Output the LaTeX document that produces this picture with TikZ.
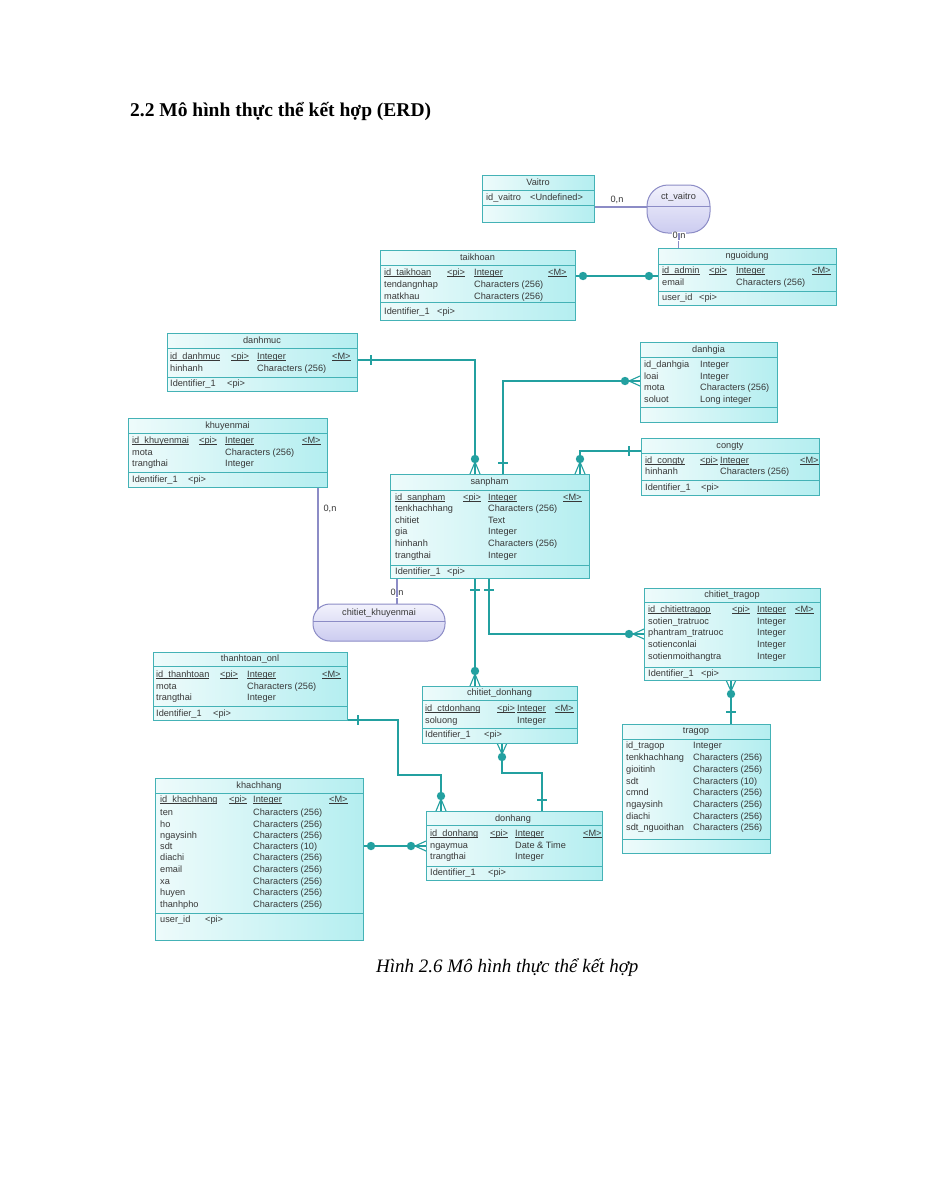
\documentclass[tikz,border=0pt]{standalone}
\usepackage{fontspec}
\setmainfont{Liberation Serif}
\newfontfamily\erfont{Liberation Sans}
\usetikzlibrary{calc}
\pgfdeclarelayer{bg}
\pgfsetlayers{bg,main}
\definecolor{ebord}{HTML}{44B2B6}
\definecolor{efill}{HTML}{B4EEF0}
\definecolor{efillb}{HTML}{EEFBFB}
\definecolor{rbord}{HTML}{8C8CC6}
\definecolor{rfill}{HTML}{CCCCF0}
\definecolor{rfillb}{HTML}{F2F2FC}
\definecolor{conncol}{HTML}{23A0A0}
\definecolor{etext}{HTML}{383838}
\newcommand\uln[1]{\setbox0\hbox{#1}\rlap{\rule[-1.4pt]{\wd0}{0.5pt}}\box0}
\newcommand\etx[3]{\node[etxt] at (#1,#2) {#3};}
\newcommand\crowN[2]{\draw[conn] (#1-5,#2) -- (#1,#2-12) -- (#1+5,#2); \fill[conncol] (#1,#2-15) circle (4.2pt);}
\newcommand\crowS[2]{\draw[conn] (#1-5,#2) -- (#1,#2+11) -- (#1+5,#2); \fill[conncol] (#1,#2+14) circle (4.2pt);}
\newcommand\crowE[2]{\draw[conn] (#1,#2-5) -- (#1-11,#2) -- (#1,#2+5); \fill[conncol] (#1-15,#2) circle (4.2pt);}
\newcommand\tickV[2]{\draw[conn] (#1,#2-5) -- (#1,#2+5);}
\newcommand\tickH[2]{\draw[conn] (#1-5,#2) -- (#1+5,#2);}
\newcommand\dotc[2]{\fill[conncol] (#1,#2) circle (4.2pt);}
\tikzset{
  entity/.style={draw=ebord, line width=1pt, left color=efillb, right color=efill, anchor=north west, inner sep=0pt, outer sep=0pt},
  relbox/.style={draw=rbord, line width=1pt, top color=rfillb, bottom color=rfill, anchor=north west, rounded corners=17pt, inner sep=0pt, outer sep=0pt},
  ediv/.style={draw=ebord, line width=0.8pt},
  rdiv/.style={draw=rbord, line width=0.8pt},
  conn/.style={draw=conncol, line width=1.1pt},
  etxt/.style={font=\erfont\fontsize{9.2}{10}\selectfont, text=etext, inner sep=0pt, anchor=west, text height=6.5pt, text depth=1.5pt},
  etitle/.style={etxt, anchor=center},
  card/.style={etxt, anchor=center}
}
\begin{document}
\begin{tikzpicture}[x=1pt,y=-1pt]
\begin{pgfonlayer}{bg}
\fill[white] (0,0) rectangle (927,1200);
\end{pgfonlayer}
\useasboundingbox (0,0) rectangle (927,1200);

% headings
\node[anchor=base west, font=\bfseries\fontsize{19.5}{22}\selectfont, inner sep=0pt] (title) at (130,116) {2.2 Mô hình thực thể kết hợp (ERD)};
\node[anchor=base west, font=\itshape\fontsize{19}{22}\selectfont, inner sep=0pt] (caption) at (376,972) {Hình 2.6 Mô hình thực thể kết hợp};

% ---------- Vaitro
\node[entity, minimum width=112pt, minimum height=47pt] (vaitro) at (482,175) {};
\draw[ediv] (482,190) -- (594,190) (482,205) -- (594,205);
\node[etitle] at (538,182.5) {Vaitro};
\etx{486}{198}{id\_vaitro}\etx{530}{198}{<Undefined>}

% ---------- ct_vaitro
\node[relbox, rounded corners=21pt, minimum width=63pt, minimum height=48pt] (ctvaitro) at (647,185) {};
\draw[rdiv] (647,206) -- (710,206);
\node[etitle] at (678.5,197) {ct\_vaitro};

% ---------- nguoidung
\node[entity, minimum width=178pt, minimum height=57pt] (nguoidung) at (658,248) {};
\draw[ediv] (658,264) -- (836,264) (658,291) -- (836,291);
\node[etitle] at (747,256) {nguoidung};
\etx{662}{271}{\uln{id\_admin}}\etx{709}{271}{\uln{<pi>}}\etx{736}{271}{\uln{Integer}}\etx{812}{271}{\uln{<M>}}
\etx{662}{283}{email}\etx{736}{283}{Characters (256)}
\etx{662}{298}{user\_id}\etx{699}{298}{<pi>}

% ---------- taikhoan
\node[entity, minimum width=195pt, minimum height=70pt] (taikhoan) at (380,250) {};
\draw[ediv] (380,265) -- (575,265) (380,302) -- (575,302);
\node[etitle] at (477.5,258) {taikhoan};
\etx{384}{273}{\uln{id\_taikhoan}}\etx{447}{273}{\uln{<pi>}}\etx{474}{273}{\uln{Integer}}\etx{548}{273}{\uln{<M>}}
\etx{384}{285}{tendangnhap}\etx{474}{285}{Characters (256)}
\etx{384}{297}{matkhau}\etx{474}{297}{Characters (256)}
\etx{384}{312}{Identifier\_1}\etx{437}{312}{<pi>}

% ---------- danhmuc
\node[entity, minimum width=190pt, minimum height=58pt] (danhmuc) at (167,333) {};
\draw[ediv] (167,348) -- (357,348) (167,377) -- (357,377);
\node[etitle] at (262,341) {danhmuc};
\etx{170}{357}{\uln{id\_danhmuc}}\etx{231}{357}{\uln{<pi>}}\etx{257}{357}{\uln{Integer}}\etx{332}{357}{\uln{<M>}}
\etx{170}{369}{hinhanh}\etx{257}{369}{Characters (256)}
\etx{170}{384}{Identifier\_1}\etx{227}{384}{<pi>}

% ---------- khuyenmai
\node[entity, minimum width=199pt, minimum height=69pt] (khuyenmai) at (128,418) {};
\draw[ediv] (128,433) -- (327,433) (128,472) -- (327,472);
\node[etitle] at (227.5,426) {khuyenmai};
\etx{132}{441}{\uln{id\_khuyenmai}}\etx{199}{441}{\uln{<pi>}}\etx{225}{441}{\uln{Integer}}\etx{302}{441}{\uln{<M>}}
\etx{132}{453}{mota}\etx{225}{453}{Characters (256)}
\etx{132}{464}{trangthai}\etx{225}{464}{Integer}
\etx{132}{480}{Identifier\_1}\etx{188}{480}{<pi>}

% ---------- danhgia
\node[entity, minimum width=137pt, minimum height=80pt] (danhgia) at (640,342) {};
\draw[ediv] (640,357) -- (777,357) (640,407) -- (777,407);
\node[etitle] at (708.5,350) {danhgia};
\etx{644}{365}{id\_danhgia}\etx{700}{365}{Integer}
\etx{644}{377}{loai}\etx{700}{377}{Integer}
\etx{644}{388}{mota}\etx{700}{388}{Characters (256)}
\etx{644}{400}{soluot}\etx{700}{400}{Long integer}

% ---------- congty
\node[entity, minimum width=178pt, minimum height=57pt] (congty) at (641,438) {};
\draw[ediv] (641,453) -- (819,453) (641,480) -- (819,480);
\node[etitle] at (730,446) {congty};
\etx{645}{461}{\uln{id\_congty}}\etx{700}{461}{\uln{<pi>}}\etx{720}{461}{\uln{Integer}}\etx{800}{461}{\uln{<M>}}
\etx{645}{472}{hinhanh}\etx{720}{472}{Characters (256)}
\etx{645}{488}{Identifier\_1}\etx{701}{488}{<pi>}

% ---------- sanpham
\node[entity, minimum width=199pt, minimum height=104pt] (sanpham) at (390,474) {};
\draw[ediv] (390,490) -- (589,490) (390,565) -- (589,565);
\node[etitle] at (489.5,482) {sanpham};
\etx{395}{498}{\uln{id\_sanpham}}\etx{463}{498}{\uln{<pi>}}\etx{488}{498}{\uln{Integer}}\etx{563}{498}{\uln{<M>}}
\etx{395}{509}{tenkhachhang}\etx{488}{509}{Characters (256)}
\etx{395}{521}{chitiet}\etx{488}{521}{Text}
\etx{395}{532}{gia}\etx{488}{532}{Integer}
\etx{395}{544}{hinhanh}\etx{488}{544}{Characters (256)}
\etx{395}{556}{trangthai}\etx{488}{556}{Integer}
\etx{395}{572}{Identifier\_1}\etx{447}{572}{<pi>}

% ---------- chitiet_khuyenmai
\node[relbox, minimum width=132pt, minimum height=37pt] (ctkm) at (313,604) {};
\draw[rdiv] (313,621) -- (445,621);
\node[etitle] at (379,612.5) {chitiet\_khuyenmai};

% ---------- chitiet_tragop
\node[entity, minimum width=176pt, minimum height=92pt] (cttg) at (644,588) {};
\draw[ediv] (644,602) -- (820,602) (644,667) -- (820,667);
\node[etitle] at (732,595) {chitiet\_tragop};
\etx{648}{610}{\uln{id\_chitiettragop}}\etx{732}{610}{\uln{<pi>}}\etx{757}{610}{\uln{Integer}}\etx{795}{610}{\uln{<M>}}
\etx{648}{622}{sotien\_tratruoc}\etx{757}{622}{Integer}
\etx{648}{633}{phantram\_tratruoc}\etx{757}{633}{Integer}
\etx{648}{645}{sotienconlai}\etx{757}{645}{Integer}
\etx{648}{657}{sotienmoithangtra}\etx{757}{657}{Integer}
\etx{648}{674}{Identifier\_1}\etx{701}{674}{<pi>}

% ---------- tragop
\node[entity, minimum width=148pt, minimum height=129pt] (tragop) at (622,724) {};
\draw[ediv] (622,739) -- (770,739) (622,839) -- (770,839);
\node[etitle] at (696,731) {tragop};
\etx{626}{746}{id\_tragop}\etx{693}{746}{Integer}
\etx{626}{758}{tenkhachhang}\etx{693}{758}{Characters (256)}
\etx{626}{770}{gioitinh}\etx{693}{770}{Characters (256)}
\etx{626}{782}{sdt}\etx{693}{782}{Characters (10)}
\etx{626}{793}{cmnd}\etx{693}{793}{Characters (256)}
\etx{626}{805}{ngaysinh}\etx{693}{805}{Characters (256)}
\etx{626}{817}{diachi}\etx{693}{817}{Characters (256)}
\etx{626}{828}{sdt\_nguoithan}\etx{693}{828}{Characters (256)}

% ---------- thanhtoan_onl
\node[entity, minimum width=194pt, minimum height=68pt] (ttonl) at (153,652) {};
\draw[ediv] (153,666) -- (347,666) (153,706) -- (347,706);
\node[etitle] at (250,659) {thanhtoan\_onl};
\etx{156}{675}{\uln{id\_thanhtoan}}\etx{220}{675}{\uln{<pi>}}\etx{247}{675}{\uln{Integer}}\etx{322}{675}{\uln{<M>}}
\etx{156}{687}{mota}\etx{247}{687}{Characters (256)}
\etx{156}{698}{trangthai}\etx{247}{698}{Integer}
\etx{156}{714}{Identifier\_1}\etx{213}{714}{<pi>}

% ---------- chitiet_donhang
\node[entity, minimum width=155pt, minimum height=57pt] (ctdh) at (422,686) {};
\draw[ediv] (422,700) -- (577,700) (422,728) -- (577,728);
\node[etitle] at (499.5,692.5) {chitiet\_donhang};
\etx{425}{709}{\uln{id\_ctdonhang}}\etx{497}{709}{\uln{<pi>}}\etx{517}{709}{\uln{Integer}}\etx{555}{709}{\uln{<M>}}
\etx{425}{721}{soluong}\etx{517}{721}{Integer}
\etx{425}{735}{Identifier\_1}\etx{484}{735}{<pi>}

% ---------- donhang
\node[entity, minimum width=176pt, minimum height=69pt] (donhang) at (426,811) {};
\draw[ediv] (426,825) -- (602,825) (426,866) -- (602,866);
\node[etitle] at (513,818.5) {donhang};
\etx{430}{834}{\uln{id\_donhang}}\etx{490}{834}{\uln{<pi>}}\etx{515}{834}{\uln{Integer}}\etx{583}{834}{\uln{<M>}}
\etx{430}{846}{ngaymua}\etx{515}{846}{Date \& Time}
\etx{430}{857}{trangthai}\etx{515}{857}{Integer}
\etx{430}{873}{Identifier\_1}\etx{488}{873}{<pi>}

% ---------- khachhang
\node[entity, minimum width=208pt, minimum height=162pt] (khachhang) at (155,778) {};
\draw[ediv] (155,793) -- (363,793) (155,913) -- (363,913);
\node[etitle] at (259,786) {khachhang};
\etx{160}{800}{\uln{id\_khachhang}}\etx{229}{800}{\uln{<pi>}}\etx{253}{800}{\uln{Integer}}\etx{329}{800}{\uln{<M>}}
\etx{160}{813}{ten}\etx{253}{813}{Characters (256)}
\etx{160}{825}{ho}\etx{253}{825}{Characters (256)}
\etx{160}{836}{ngaysinh}\etx{253}{836}{Characters (256)}
\etx{160}{847}{sdt}\etx{253}{847}{Characters (10)}
\etx{160}{858}{diachi}\etx{253}{858}{Characters (256)}
\etx{160}{870}{email}\etx{253}{870}{Characters (256)}
\etx{160}{882}{xa}\etx{253}{882}{Characters (256)}
\etx{160}{893}{huyen}\etx{253}{893}{Characters (256)}
\etx{160}{905}{thanhpho}\etx{253}{905}{Characters (256)}
\etx{160}{920}{user\_id}\etx{205}{920}{<pi>}

% ================= connectors
\begin{pgfonlayer}{bg}
% Vaitro - ct_vaitro
\draw[conn, draw=rbord] (vaitro.east |- 0,207) -- (ctvaitro.west |- 0,207);
% ct_vaitro - nguoidung
\draw[conn, draw=rbord] (ctvaitro.south) -- (ctvaitro.south |- nguoidung.north);
% taikhoan - nguoidung
\draw[conn] (taikhoan.east |- 0,276) -- (nguoidung.west |- 0,276);
\dotc{583}{276}\dotc{649}{276}
% danhmuc - sanpham
\draw[conn] (danhmuc.east |- 0,360) -| ($(sanpham.north west)+(85,0)$);
\tickV{371}{360}\crowN{475}{474}
% sanpham - danhgia
\draw[conn] ($(sanpham.north west)+(113,0)$) |- (danhgia.west |- 0,381);
\tickH{503}{463}\crowE{640}{381}
% congty - sanpham
\draw[conn] (congty.west |- 0,451) -| ($(sanpham.north west)+(190,0)$);
\tickV{629}{451}\crowN{580}{474}
% khuyenmai - chitiet_khuyenmai
\draw[conn, draw=rbord] ($(khuyenmai.south west)+(190,0)$) -- ($(ctkm.north west)+(5,12)$);
% sanpham - chitiet_khuyenmai
\draw[conn, draw=rbord] ($(sanpham.south west)+(7,0)$) -- ($(ctkm.north west)+(84,2)$);
% sanpham - chitiet_donhang
\draw[conn] ($(sanpham.south west)+(85,0)$) -- ($(ctdh.north west)+(53,0)$);
\tickH{475}{590}\crowN{475}{686}
% sanpham - chitiet_tragop
\draw[conn] ($(sanpham.south west)+(99,0)$) |- (cttg.west |- 0,634);
\tickH{489}{590}\crowE{644}{634}
% chitiet_tragop - tragop
\draw[conn] ($(cttg.south west)+(87,0)$) -- ($(tragop.north west)+(109,0)$);
\crowS{731}{680}\tickH{731}{712}
% thanhtoan_onl - donhang
\coordinate (b1) at (398,775);
\draw[conn] (ttonl.south east) -| (b1) -| ($(donhang.north west)+(15,0)$);
\tickV{358}{720}\crowN{441}{811}
% chitiet_donhang - donhang
\coordinate (b2) at (542,773);
\draw[conn] ($(ctdh.south west)+(80,0)$) |- (b2) -- ($(donhang.north west)+(116,0)$);
\crowS{502}{743}\tickH{542}{800}
% khachhang - donhang
\draw[conn] (khachhang.east |- 0,846) -- (donhang.west |- 0,846);
\dotc{371}{846}\crowE{426}{846}
\end{pgfonlayer}
% cardinality labels
\node[card] (c1) at (617,200) {0,n};
\node[card, fill=white, inner sep=0.5pt] (c2) at (679,236) {0,n};
\draw[draw=rbord, line width=1.1pt] (679,233) -- (679,240);
\node[card] (c3) at (330,509) {0,n};
\node[card, fill=white, inner sep=0.5pt] (c4) at (397,593) {0,n};
\draw[draw=rbord, line width=1.1pt] (397,589) -- (397,597);
\end{tikzpicture}
\end{document}
